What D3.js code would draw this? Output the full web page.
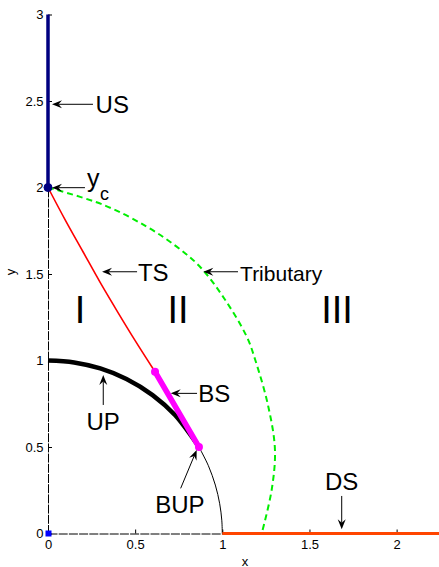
<!DOCTYPE html>
<html>
<head>
<meta charset="utf-8">
<script src="https://cdn.jsdelivr.net/npm/d3@7"></script>
<style>
  html, body { margin: 0; padding: 0; background: #fff; }
  svg { display: block; font-family: "Liberation Sans", Arial, Helvetica, sans-serif; }
</style>
</head>
<body>
<svg id="chart" width="439" height="567"></svg>
<script>
// Flow regions around a junction: upstream/downstream channels, shock, tributary
const xTicks = [0, 0.5, 1, 1.5, 2];
const yTicks = [0, 0.5, 1, 1.5, 2, 2.5, 3];
const xTickLabels = ["0", "0.5", "1", "1.5", "2"];
const yTickLabels = ["0", "0.5", "1", "1.5", "2", "2.5", "3"];

// Upstream channel (US) along x = 0
const usLine = [[0, 2], [0, 3]];
// Downstream channel (DS) along y = 0
const dsLine = [[1, 0], [2.25, 0]];
// Transition shock (TS)
const tsLine = [[0, 2], [0.1, 1.81], [0.2, 1.63], [0.3, 1.45], [0.4, 1.28], [0.5, 1.115], [0.614, 0.935]];
// Bottom shock (BS)
const bsLine = [[0.614, 0.935], [0.866, 0.5]];
// Upper profile (UP), thick part
const upArc = [[0, 1], [0.15, 0.989], [0.3, 0.954], [0.45, 0.893], [0.6, 0.8], [0.73, 0.683], [0.866, 0.5]];
// Continuation of the profile down to the x axis
const lowArc = [[0.866, 0.5], [0.92, 0.392], [0.96, 0.28], [0.985, 0.172], [0.997, 0.077], [1, 0]];
// Tributary boundary
const tributary = [[0, 2], [0.317, 1.9], [0.566, 1.774], [0.738, 1.658], [0.872, 1.542], [1.01, 1.36],
                   [1.14, 1.138], [1.19, 1.0], [1.264, 0.733], [1.302, 0.483], [1.283, 0.251], [1.226, 0]];
// Critical depth point y_c and the origin marker
const ycPoint = [0, 2];
const originPoint = [0, 0];

// Region names
const regionNames = ["I", "II", "III"];
const regionX = [0.184, 0.746, 1.658];
const regionY = 1.215;

// Annotations: arrow tail, arrow head, text anchor (data units)
const annotations = [
  { text: "US",        from: [0.258, 2.481], to: [0.023, 2.481], at: [0.273, 2.43],  anchor: "start",  size: 24 },
  { text: "TS",        from: [0.511, 1.513], to: [0.310, 1.513], at: [0.516, 1.462], anchor: "start",  size: 24 },
  { text: "Tributary", from: [1.090, 1.513], to: [0.891, 1.513], at: [1.102, 1.462], anchor: "start",  size: 21 },
  { text: "BS",        from: [0.855, 0.810], to: [0.704, 0.810], at: [0.862, 0.760], anchor: "start",  size: 24 },
  { text: "UP",        from: [0.317, 0.743], to: [0.317, 0.916], at: [0.316, 0.598], anchor: "middle", size: 24 },
  { text: "BUP",       from: [0.761, 0.261], to: [0.853, 0.483], at: [0.757, 0.117], anchor: "middle", size: 24 },
  { text: "DS",        from: [1.685, 0.217], to: [1.685, 0.024], at: [1.685, 0.251], anchor: "middle", size: 24 }
];
const ycArrow = { from: [0.212, 1.999], to: [0.023, 1.999], at: [0.224, 2.003], subAt: [0.298, 1.928] };

const svg = d3.select("#chart");
const x = d3.scaleLinear().domain([0, 2.25]).range([48, 440.2]);
const y = d3.scaleLinear().domain([0, 3]).range([533.5, 14.5]);

// Axes
const gx = svg.append("g").attr("transform", `translate(0,${y(0)})`)
  .call(d3.axisBottom(x).tickValues(xTicks).tickFormat((d, i) => xTickLabels[i])
    .tickSizeInner(-4).tickSizeOuter(0).tickPadding(6));
const gy = svg.append("g").attr("transform", `translate(${x(0)},0)`)
  .call(d3.axisLeft(y).tickValues(yTicks).tickFormat((d, i) => yTickLabels[i])
    .tickSizeInner(-4).tickSizeOuter(0).tickPadding(4.5));
[gx, gy].forEach(g => {
  g.selectAll("text").attr("font-size", 13).attr("fill", "#000")
    .attr("font-family", "'Liberation Sans', Arial, sans-serif");
  g.selectAll(".tick line").attr("stroke", "#000");
  g.select(".domain").attr("stroke", "#000").attr("stroke-dasharray", "9,1.2");
});

svg.append("text").attr("x", 245).attr("y", 565.5).attr("text-anchor", "middle")
  .attr("font-size", 13).text("x");
svg.append("text").attr("transform", "translate(15,272) rotate(-90)").attr("text-anchor", "middle")
  .attr("font-size", 13).text("y");

const line = d3.line().x(d => x(d[0])).y(d => y(d[1]));
const smooth = d3.line().x(d => x(d[0])).y(d => y(d[1])).curve(d3.curveCatmullRom.alpha(0.5));

// Profile arcs
svg.append("path").attr("d", smooth(lowArc)).attr("fill", "none").attr("stroke", "#000").attr("stroke-width", 1);
svg.append("path").attr("d", smooth(upArc)).attr("fill", "none").attr("stroke", "#000").attr("stroke-width", 4.5);

// Tributary boundary
svg.append("path").attr("d", smooth(tributary)).attr("fill", "none").attr("stroke", "#00ee00")
  .attr("stroke-width", 2).attr("stroke-dasharray", "6,4");

// Transition shock
svg.append("path").attr("d", smooth(tsLine)).attr("fill", "none").attr("stroke", "#ff0000").attr("stroke-width", 1.6);

// Bottom shock
svg.append("path").attr("d", line(bsLine)).attr("fill", "none").attr("stroke", "#ff00ff")
  .attr("stroke-width", 5.5).attr("stroke-linecap", "round");
svg.selectAll(".bsm").data(bsLine).join("circle").attr("class", "bsm")
  .attr("cx", d => x(d[0])).attr("cy", d => y(d[1])).attr("r", 4).attr("fill", "#ff00ff");

// Downstream and upstream channels
svg.append("path").attr("d", line(dsLine)).attr("fill", "none").attr("stroke", "#ff4500").attr("stroke-width", 3);
svg.append("path").attr("d", line(usLine)).attr("fill", "none").attr("stroke", "#000080").attr("stroke-width", 3.5);
svg.append("circle").attr("cx", x(ycPoint[0])).attr("cy", y(ycPoint[1])).attr("r", 4)
  .attr("fill", "#000080").attr("stroke", "#000080");
svg.append("rect").attr("x", x(originPoint[0]) - 2.5).attr("y", y(originPoint[1]) - 3)
  .attr("width", 6).attr("height", 6).attr("fill", "#0000ff");

// Region labels
svg.selectAll(".region").data(regionNames).join("text").attr("class", "region")
  .attr("x", (d, i) => x(regionX[i])).attr("y", y(regionY)).attr("text-anchor", "middle")
  .attr("font-size", 38).text(d => d);

// Arrow drawing helper
function arrow(from, to) {
  const x1 = x(from[0]), y1 = y(from[1]), x2 = x(to[0]), y2 = y(to[1]);
  const a = Math.atan2(y2 - y1, x2 - x1);
  const len = 10, half = 4, notch = 6.5;
  svg.append("line").attr("x1", x1).attr("y1", y1)
    .attr("x2", x2 - Math.cos(a) * notch).attr("y2", y2 - Math.sin(a) * notch)
    .attr("stroke", "#000").attr("stroke-width", 1);
  const p = (dx, dy) => [x2 + dx * Math.cos(a) - dy * Math.sin(a), y2 + dx * Math.sin(a) + dy * Math.cos(a)];
  const pts = [p(0, 0), p(-len, -half), p(-notch, 0), p(-len, half)];
  svg.append("path").attr("d", "M" + pts.map(q => q.join(",")).join("L") + "Z").attr("fill", "#000");
}

annotations.forEach(an => {
  arrow(an.from, an.to);
  svg.append("text").attr("x", x(an.at[0])).attr("y", y(an.at[1])).attr("text-anchor", an.anchor)
    .attr("font-size", an.size).text(an.text);
});

// y_c with subscript
arrow(ycArrow.from, ycArrow.to);
svg.append("text").attr("x", x(ycArrow.at[0])).attr("y", y(ycArrow.at[1])).attr("font-size", 25).text("y");
svg.append("text").attr("x", x(ycArrow.subAt[0])).attr("y", y(ycArrow.subAt[1])).attr("font-size", 18).text("c");
</script>
</body>
</html>
